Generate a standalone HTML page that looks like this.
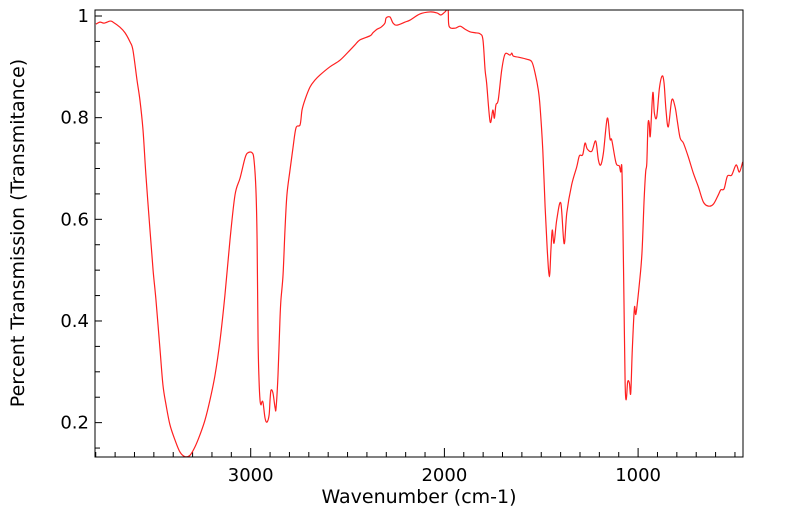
<!DOCTYPE html>
<html><head><meta charset="utf-8"><style>
html,body{margin:0;padding:0;background:#fff;}
svg{display:block;font-family:"DejaVu Sans","Liberation Sans",sans-serif;}
</style></head><body>
<svg id="chart" width="799" height="516" xmlns="http://www.w3.org/2000/svg">
<g id="ticks"></g>
<g id="labels"></g>
<defs><clipPath id="clip"><rect x="95" y="10" width="648" height="447"/></clipPath></defs>
<path id="series" fill="none" stroke="#ff2020" stroke-width="1.2" stroke-linejoin="round" clip-path="url(#clip)"/>
<rect x="95" y="10" width="648" height="447" fill="none" stroke="#000" stroke-width="1"/>
<text x="419" y="503" font-size="19" text-anchor="middle">Wavenumber (cm-1)</text>
<text transform="translate(24,233) rotate(-90)" font-size="19" text-anchor="middle">Percent Transmission (Transmitance)</text>
</svg>
<script>
const wavenumbers=[3799,3778,3757,3726,3711,3675,3649,3623,3608,3587,3572,3556,3541,3520,3504,3489,3468,3453,3437,3417,3391,3365,3339,3313,3288,3262,3236,3210,3184,3158,3133,3107,3081,3055,3029,3014,2993,2983,2973,2967,2962,2957,2952,2947,2942,2936,2926,2916,2905,2900,2895,2885,2874,2869,2859,2849,2844,2833,2823,2813,2797,2782,2766,2745,2735,2720,2694,2668,2642,2591,2539,2487,2462,2436,2384,2369,2348,2327,2307,2301,2281,2265,2245,2203,2177,2126,2074,2038,2018,1997,1981,1976,1945,1919,1893,1868,1842,1816,1801,1790,1782,1764,1750,1742,1734,1722,1704,1687,1661,1652,1644,1618,1575,1549,1532,1515,1506,1492,1480,1469,1458,1450,1443,1434,1420,1399,1382,1368,1343,1317,1303,1286,1274,1262,1239,1219,1205,1193,1179,1159,1145,1136,1114,1097,1090,1084,1079,1073,1067,1061,1054,1045,1038,1030,1019,1011,993,980,969,961,955,949,943,937,924,916,904,890,876,866,856,844,826,809,797,783,766,741,715,689,663,637,611,586,573,556,539,517,494,477,460];
const transmittance=[0.984,0.988,0.986,0.990,0.988,0.978,0.967,0.949,0.933,0.874,0.835,0.776,0.687,0.579,0.500,0.441,0.343,0.274,0.235,0.196,0.166,0.142,0.133,0.136,0.152,0.176,0.205,0.245,0.294,0.363,0.451,0.559,0.648,0.681,0.721,0.731,0.731,0.717,0.658,0.559,0.363,0.284,0.245,0.235,0.241,0.239,0.209,0.201,0.215,0.245,0.264,0.258,0.229,0.229,0.294,0.402,0.441,0.491,0.579,0.648,0.697,0.740,0.780,0.786,0.815,0.835,0.860,0.874,0.884,0.900,0.913,0.933,0.943,0.953,0.961,0.967,0.974,0.978,0.986,0.996,0.998,0.986,0.982,0.988,0.992,1.004,1.008,1.006,1.002,1.008,1.012,0.980,0.976,0.980,0.974,0.969,0.967,0.965,0.953,0.894,0.868,0.792,0.815,0.799,0.825,0.835,0.894,0.925,0.923,0.927,0.921,0.919,0.915,0.910,0.888,0.854,0.821,0.736,0.624,0.540,0.487,0.540,0.579,0.553,0.599,0.632,0.552,0.613,0.668,0.703,0.725,0.727,0.750,0.738,0.734,0.754,0.717,0.707,0.731,0.799,0.758,0.756,0.711,0.705,0.693,0.703,0.605,0.441,0.278,0.245,0.280,0.278,0.258,0.343,0.426,0.414,0.475,0.534,0.638,0.693,0.711,0.786,0.790,0.764,0.849,0.809,0.801,0.858,0.882,0.868,0.815,0.782,0.835,0.821,0.792,0.760,0.750,0.723,0.691,0.664,0.634,0.626,0.630,0.648,0.658,0.660,0.685,0.687,0.707,0.693,0.713];
const xTickLabels=[3000,2000,1000];
const yTickLabels=["0.2","0.4","0.6","0.8","1"];
const yTickValues=[0.2,0.4,0.6,0.8,1.0];

function xScale(w){return 250.7+(3000-w)*0.1937;}
function yScale(t){return 16+(1-t)*508.3;}
const NS="http://www.w3.org/2000/svg";
const pts=wavenumbers.map((w,i)=>[xScale(w),yScale(transmittance[i])]);
let d="M"+pts[0][0].toFixed(2)+","+pts[0][1].toFixed(2);
for(let i=0;i<pts.length-1;i++){
  const p0=pts[Math.max(0,i-1)],p1=pts[i],p2=pts[i+1],p3=pts[Math.min(pts.length-1,i+2)];
  const c1x=p1[0]+(p2[0]-p0[0])/6,c1y=p1[1]+(p2[1]-p0[1])/6;
  const c2x=p2[0]-(p3[0]-p1[0])/6,c2y=p2[1]-(p3[1]-p1[1])/6;
  d+="C"+c1x.toFixed(2)+","+c1y.toFixed(2)+" "+c2x.toFixed(2)+","+c2y.toFixed(2)+" "+p2[0].toFixed(2)+","+p2[1].toFixed(2);
}
document.getElementById("series").setAttribute("d",d);
const tg=document.getElementById("ticks"),lg=document.getElementById("labels");
function line(x1,y1,x2,y2){const l=document.createElementNS(NS,"line");l.setAttribute("x1",x1);l.setAttribute("y1",y1);l.setAttribute("x2",x2);l.setAttribute("y2",y2);l.setAttribute("stroke","#000");l.setAttribute("stroke-width","1");


tg.appendChild(l);}
for(let w=3800;w>=500;w-=100){const x=xScale(w);const major=w%1000===0;line(x,457,x,457-(major?9:5));}
for(let k=3;k<=20;k++){const v=k*0.05;const y=yScale(v);const major=(k%4===0);line(95,y,95+(major?7:5),y);}
xTickLabels.forEach(v=>{const t=document.createElementNS(NS,"text");t.setAttribute("x",xScale(v));t.setAttribute("y",481);t.setAttribute("font-size","18");t.setAttribute("text-anchor","middle");t.textContent=v;


lg.appendChild(t);});
yTickValues.forEach((v,i)=>{const t=document.createElementNS(NS,"text");t.setAttribute("x",89);t.setAttribute("y",yScale(v)+6);t.setAttribute("font-size","18");t.setAttribute("text-anchor","end");t.textContent=yTickLabels[i];


lg.appendChild(t);});
</script>
</body></html>
